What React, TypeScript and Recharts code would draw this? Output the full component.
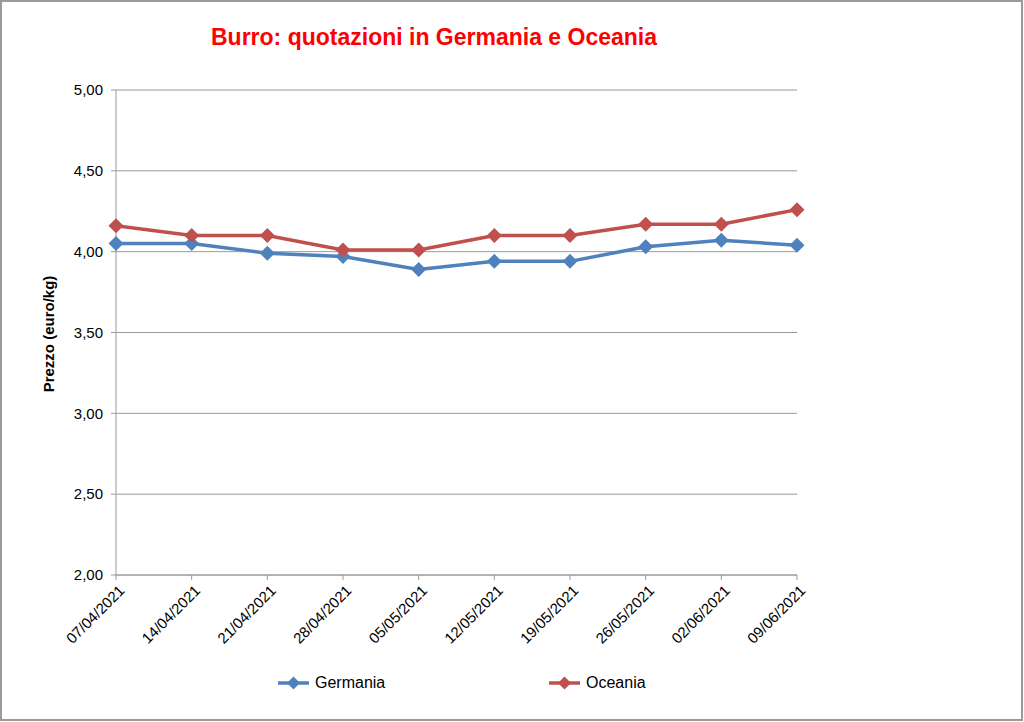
import { LineChart, Line, XAxis, YAxis, CartesianGrid } from 'recharts'

const dates = [
  '07/04/2021', '14/04/2021', '21/04/2021', '28/04/2021', '05/05/2021',
  '12/05/2021', '19/05/2021', '26/05/2021', '02/06/2021', '09/06/2021',
]
const germania = [4.05, 4.05, 3.99, 3.97, 3.89, 3.94, 3.94, 4.03, 4.07, 4.04]
const oceania = [4.16, 4.10, 4.10, 4.01, 4.01, 4.10, 4.10, 4.17, 4.17, 4.26]
const yTicks = [2, 2.5, 3, 3.5, 4, 4.5, 5]

const BLUE = '#4F81BD'
const RED = '#C0504D'
const GRID = '#9a9a9a'
const FONT = '"Liberation Sans", Arial, sans-serif'

const data = dates.map((d, i) => ({ date: d, Germania: germania[i], Oceania: oceania[i] }))

function Diamond({ cx, cy, fill }: { cx?: number; cy?: number; fill: string }) {
  if (cx == null || cy == null) return null
  const r = 7.5
  return <path d={`M${cx},${cy - r}L${cx + r},${cy}L${cx},${cy + r}L${cx - r},${cy}Z`} fill={fill} />
}

function LegendItem({ label, color, left }: { label: string; color: string; left: number }) {
  return (
    <div style={{ position: 'absolute', left, top: 674, display: 'flex', alignItems: 'center', gap: 6 }}>
      <svg width={31} height={16}>
        <line x1={0} y1={8} x2={31} y2={8} stroke={color} strokeWidth={3.5} />
        <path d="M15.5,1.5L22,8L15.5,14.5L9,8Z" fill={color} />
      </svg>
      <span style={{ fontFamily: FONT, fontSize: 16, color: '#000' }}>{label}</span>
    </div>
  )
}

export default function App() {
  const fmt = (v: number) => v.toFixed(2).replace('.', ',')
  return (
    <div style={{ position: 'absolute', left: 0, top: 0, width: 1024, height: 722, background: '#fff' }}>
      <div style={{
        position: 'absolute', left: 0, top: 0, width: 1023, height: 721,
        border: '2px solid #9a9a9a', boxSizing: 'border-box',
      }} />
      <div style={{
        position: 'absolute', left: 0, width: 868, top: 24, textAlign: 'center',
        fontFamily: FONT, fontWeight: 'bold', fontSize: 23, color: '#ff0000',
      }}>
        Burro: quotazioni in Germania e Oceania
      </div>
      <div style={{
        position: 'absolute', left: 48, top: 334, transform: 'translate(-50%, -50%) rotate(-90deg)',
        whiteSpace: 'nowrap', fontFamily: FONT, fontWeight: 'bold', fontSize: 15, color: '#000',
      }}>
        Prezzo (euro/kg)
      </div>
      <div style={{ position: 'absolute', left: 0, top: 0 }}>
        <LineChart width={1024} height={722} data={data} margin={{ top: 90, right: 227, bottom: 67, left: 0 }}>
          <CartesianGrid vertical={false} stroke={GRID} strokeWidth={1} />
          <XAxis
            dataKey="date"
            height={80}
            interval={0}
            stroke={GRID}
            tickSize={5}
            tick={{ fontSize: 15, fontFamily: FONT, fill: '#000' }}
            angle={-45}
            textAnchor="end"
            dx={2}
            dy={2}
          />
          <YAxis
            width={116}
            domain={[2, 5]}
            ticks={yTicks}
            tickFormatter={fmt}
            stroke={GRID}
            tickSize={5}
            tickMargin={8}
            tick={{ fontSize: 15, fontFamily: FONT, fill: '#000' }}
          />
          <Line
            dataKey="Germania"
            stroke={BLUE}
            strokeWidth={3.5}
            dot={(p: any) => <Diamond key={`g${p.index}`} cx={p.cx} cy={p.cy} fill={BLUE} />}
            activeDot={false}
            isAnimationActive={false}
          />
          <Line
            dataKey="Oceania"
            stroke={RED}
            strokeWidth={3.5}
            dot={(p: any) => <Diamond key={`o${p.index}`} cx={p.cx} cy={p.cy} fill={RED} />}
            activeDot={false}
            isAnimationActive={false}
          />
        </LineChart>
      </div>
      <LegendItem label="Germania" color={BLUE} left={278} />
      <LegendItem label="Oceania" color={RED} left={549} />
    </div>
  )
}
